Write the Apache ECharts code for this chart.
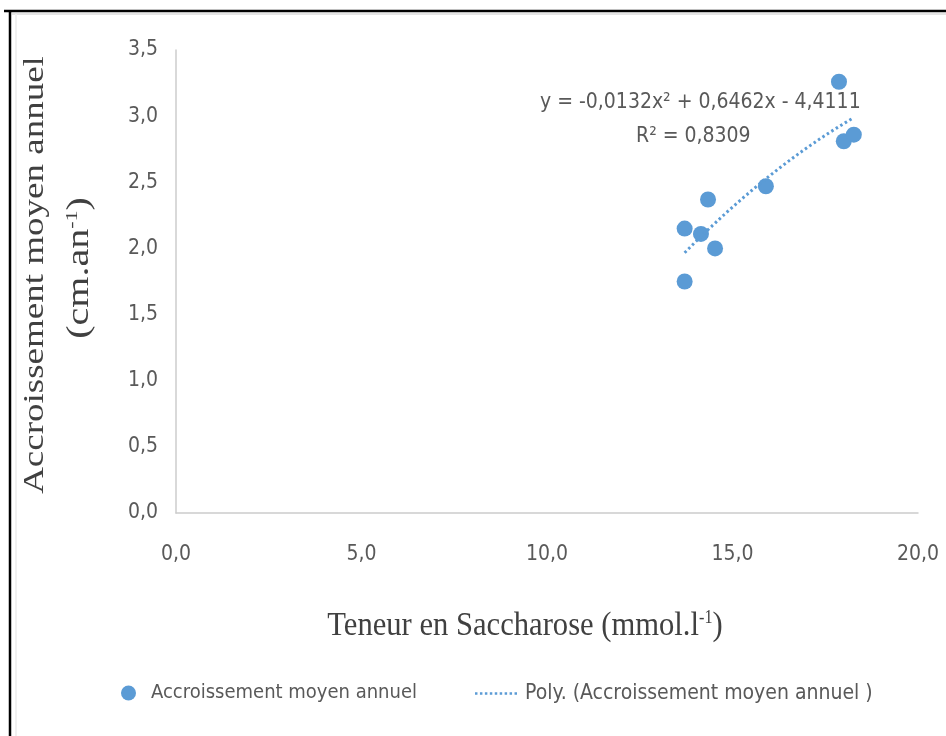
<!DOCTYPE html>
<html>
<head>
<meta charset="utf-8">
<script src="https://cdn.jsdelivr.net/npm/echarts@6/dist/echarts.min.js"></script>
<style>
  html, body { margin: 0; padding: 0; background: #ffffff; }
  #chart { width: 946px; height: 736px; }
</style>
</head>
<body>
<div id="chart"></div>
<script>
// Sucrose content (mmol/l) and mean annual growth (cm/yr) per sample
const sucrose = [17.87, 18.0, 18.27, 15.9, 14.34, 13.71, 14.15, 14.53, 13.71];
const growth  = [3.26, 2.81, 2.86, 2.47, 2.37, 2.15, 2.11, 2.00, 1.75];

// Polynomial trend coefficients (a·x² + b·x + c) and fit quality
const trendCoef = [-0.0132, 0.6462, -4.4111];
const trendR2 = 0.8309;

// Axis ranges and tick steps
const xTicks = [0, 5, 10, 15, 20];
const yTicks = [0, 0.5, 1, 1.5, 2, 2.5, 3, 3.5];

const seriesName = 'Accroissement moyen annuel';
const trendName = 'Poly. (Accroissement moyen annuel )';

const BLUE = '#5b9bd5';
const TICK = '#595959';
const narrow = "'Liberation Sans Narrow', 'DejaVu Sans Condensed', sans-serif";
const serif = "'Liberation Serif', 'DejaVu Serif', serif";

const fmt = v => v.toFixed(1).replace('.', ',');
const fmtCoef = v => Math.abs(v).toFixed(4).replace('.', ',');

// Evaluate the fitted polynomial across the span of the observed x values
const xMin = Math.min(...sucrose), xMax = Math.max(...sucrose);
const trendPts = [];
const steps = 60;
for (let i = 0; i <= steps; i++) {
  const x = xMin + (xMax - xMin) * i / steps;
  const y = trendCoef[0] * x * x + trendCoef[1] * x + trendCoef[2];
  trendPts.push([x, y]);
}

const eqText = 'y = ' + (trendCoef[0] < 0 ? '-' : '') + fmtCoef(trendCoef[0]) + 'x² ' +
  (trendCoef[1] < 0 ? '- ' : '+ ') + fmtCoef(trendCoef[1]) + 'x ' +
  (trendCoef[2] < 0 ? '- ' : '+ ') + fmtCoef(trendCoef[2]);
const r2Text = 'R² = ' + trendR2.toFixed(4).replace('.', ',');

// Dotted legend swatch for the trend line
let dotPath = 'path://';
for (let i = 0; i < 9; i++) dotPath += 'M' + (i * 5) + ',0h2.5v2.5h-2.5z';

const chart = echarts.init(document.getElementById('chart'), null, { renderer: 'canvas' });

chart.setOption({
  backgroundColor: '#ffffff',
  animation: false,
  grid: { left: 176, right: 28, top: 50, bottom: 223, containLabel: false },
  xAxis: {
    type: 'value',
    min: xTicks[0], max: xTicks[xTicks.length - 1], interval: xTicks[1] - xTicks[0],
    axisLine: { show: true, lineStyle: { color: '#cccccc', width: 1.5 } },
    axisTick: { show: false },
    splitLine: { show: false },
    axisLabel: { color: TICK, fontFamily: narrow, fontSize: 21, margin: 31, formatter: fmt }
  },
  yAxis: {
    type: 'value',
    min: yTicks[0], max: yTicks[yTicks.length - 1], interval: yTicks[1] - yTicks[0],
    axisLine: { show: true, lineStyle: { color: '#cccccc', width: 1.5 } },
    axisTick: { show: false },
    splitLine: { show: false },
    axisLabel: { color: TICK, fontFamily: narrow, fontSize: 21, margin: 18, formatter: fmt }
  },
  legend: [
    {
      data: [{ name: seriesName, icon: 'circle' }],
      left: 116, top: 678,
      itemWidth: 15, itemHeight: 15,
      textStyle: { color: TICK, fontFamily: narrow, fontSize: 20, padding: [0, 0, 0, 10] }
    },
    {
      data: [{ name: trendName, icon: dotPath }],
      left: 470, top: 678,
      itemWidth: 42, itemHeight: 3,
      textStyle: { color: TICK, fontFamily: narrow, fontSize: 21, padding: [0, 0, 0, 3] }
    }
  ],
  series: [
    {
      name: trendName,
      type: 'line',
      data: trendPts,
      symbol: 'none',
      smooth: false,
      lineStyle: { color: BLUE, width: 3, type: [2.5, 2.8] },
      itemStyle: { color: BLUE },
      z: 3
    },
    {
      name: seriesName,
      type: 'scatter',
      data: sucrose.map((x, i) => [x, growth[i]]),
      symbol: 'circle',
      symbolSize: 16,
      itemStyle: { color: BLUE, opacity: 1 },
      z: 2
    }
  ],
  graphic: [
    // outer frame (top and left edges)
    { type: 'line', shape: { x1: 4, y1: 11, x2: 946, y2: 11 }, style: { stroke: '#000', lineWidth: 2.5 } },
    { type: 'line', shape: { x1: 10, y1: 11, x2: 10, y2: 736 }, style: { stroke: '#000', lineWidth: 2.5 } },
    { type: 'line', shape: { x1: 12, y1: 14, x2: 946, y2: 14 }, style: { stroke: '#e4e4e4', lineWidth: 2 } },
    { type: 'line', shape: { x1: 16, y1: 14, x2: 16, y2: 736 }, style: { stroke: '#f0f0f0', lineWidth: 2 } },
    // trend equation
    {
      type: 'text', left: 540, top: 92,
      style: { text: eqText, fill: TICK, font: "21px " + narrow }
    },
    {
      type: 'text', left: 636, top: 126,
      style: { text: r2Text, fill: TICK, font: "21px " + narrow }
    },
    // x-axis title
    {
      type: 'text', x: 525, y: 626, scaleX: 0.9,
      style: {
        text: '{a|Teneur en Saccharose (mmol.l}{s|-1}{a|)}',
        align: 'center', verticalAlign: 'middle',
        rich: {
          a: { fontFamily: serif, fontSize: 34, fill: '#404040' },
          s: { fontFamily: serif, fontSize: 18, fill: '#404040', verticalAlign: 'top' }
        }
      }
    },
    // y-axis title, two lines
    {
      type: 'text', x: 35, y: 275, rotation: Math.PI / 2, scaleY: 0.8,
      style: {
        text: 'Accroissement moyen annuel',
        align: 'center', verticalAlign: 'middle',
        fontFamily: serif, fontSize: 37, fill: '#404040'
      }
    },
    {
      type: 'text', x: 80, y: 268, rotation: Math.PI / 2, scaleY: 0.8,
      style: {
        text: '{a|(cm.an}{s|-1}{a|)}',
        align: 'center', verticalAlign: 'middle',
        rich: {
          a: { fontFamily: serif, fontSize: 40, fill: '#404040' },
          s: { fontFamily: serif, fontSize: 22, fill: '#404040', verticalAlign: 'top' }
        }
      }
    }
  ]
});
</script>
</body>
</html>
